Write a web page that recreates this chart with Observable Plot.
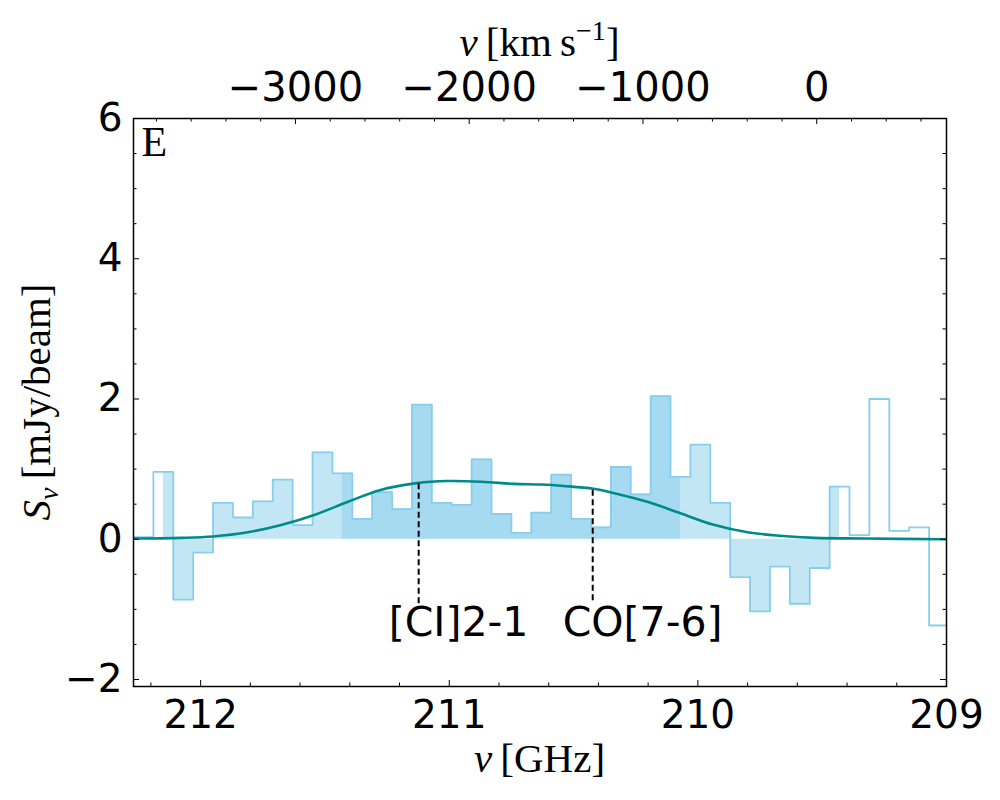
<!DOCTYPE html>
<html>
<head>
<meta charset="utf-8">
<script src="https://cdn.jsdelivr.net/npm/d3@7"></script>
<script src="https://cdn.jsdelivr.net/npm/@observablehq/plot@0.6"></script>
<style>
  body { margin: 0; background: #fff; }
  #chart { width: 1000px; height: 800px; }
</style>
</head>
<body>
<div id="chart"></div>
<script>
// ---- data ----
const channelFreq = [212.23, 212.15, 212.07, 211.99, 211.91, 211.83, 211.75, 211.67, 211.59, 211.51,
  211.43, 211.35, 211.27, 211.19, 211.11, 211.03, 210.95, 210.87, 210.79, 210.71,
  210.63, 210.55, 210.47, 210.39, 210.31, 210.23, 210.15, 210.07, 209.99, 209.91,
  209.83, 209.75, 209.67, 209.59, 209.51, 209.43, 209.35, 209.27, 209.19, 209.11, 209.03];
const channelFlux = [0.03, 0.96, -0.86, -0.19, 0.52, 0.31, 0.54, 0.85, 0.20, 1.24,
  0.94, 0.29, 0.67, 0.43, 1.92, 0.52, 0.49, 1.14, 0.36, 0.09,
  0.38, 0.92, 0.29, 0.17, 1.03, 0.64, 2.04, 0.89, 1.35, 0.52,
  -0.54, -1.03, -0.39, -0.92, -0.41, 0.75, 0.06, 2.00, 0.12, 0.17, -1.23];
const wideRange = [1, 35];   // channels in the light shaded band
const coreRange = [10, 27];  // channels in the darker shaded band

const fitFreq = [212.27, 212.08, 211.95, 211.81, 211.68, 211.54, 211.41, 211.28, 211.13, 211.01,
  210.87, 210.74, 210.63, 210.54, 210.42, 210.34, 210.20, 210.07, 209.94, 209.80,
  209.67, 209.53, 209.33, 209.00];
const fitFlux = [0.01, 0.02, 0.04, 0.10, 0.20, 0.35, 0.53, 0.70, 0.80, 0.83,
  0.82, 0.79, 0.78, 0.76, 0.72, 0.66, 0.53, 0.37, 0.21, 0.10,
  0.05, 0.02, 0.01, 0.00];

const lineNames = ["[CI]2-1", "CO[7-6]"];
const lineFreq = [211.123, 210.423];
const lineTop = [0.79, 0.70];
const lineBottom = -0.92;
const labelY = -1.19;

const xMajor = [212, 211, 210, 209];
const yMajor = [-2, 0, 2, 4, 6];
const vMajor = [-3000, -2000, -1000, 0];
const nu0 = 209.522;       // GHz, velocity zero
const cKms = 299792.458;
const panelLabel = "E";

// ---- tables ----
const channels = channelFreq.map((f, i) => ({freq: f, flux: channelFlux[i]}));
const chanW = Math.abs(channelFreq[0] - channelFreq[1]);
const stepPts = channels.flatMap(d => [
  {freq: d.freq + chanW / 2, flux: d.flux},
  {freq: d.freq - chanW / 2, flux: d.flux}
]);
const fit = fitFreq.map((f, i) => ({freq: f, flux: fitFlux[i]}));
const lines = lineNames.map((n, i) => ({name: n, freq: lineFreq[i], top: lineTop[i]}));

const xDomain = [212.27, 209];
const vToNu = v => nu0 * (1 - v / cKms);
const inX = f => f <= xDomain[0] && f >= xDomain[1];
const xMinor = d3.range(2090, 2124, 2).map(v => v / 10).filter(v => !xMajor.includes(v) && inX(v));
const yMinor = d3.range(-1.5, 6, 0.5).filter(v => !yMajor.includes(v));
const vMajorNu = vMajor.map(vToNu);
const vMinorNu = d3.range(-4000, 1000, 200).filter(v => !vMajor.includes(v)).map(vToNu).filter(inX);

// ---- layout ----
const W = 1000, H = 800, mL = 133, mR = 54, mT = 118, mB = 114;
const pw = W - mL - mR, ph = H - mT - mB;
const majorLen = 6, minorLen = 3.5;
const sky = "#87ceeb";
const fmtInt = d3.format("d");

const plot = Plot.plot({
  width: W, height: H,
  marginLeft: mL, marginRight: mR, marginTop: mT, marginBottom: mB,
  style: {fontFamily: "DejaVu Sans", fontSize: "39px", background: "white", color: "black"},
  x: {domain: xDomain},
  y: {domain: [-2.1, 6]},
  marks: [
    Plot.areaY(channels.slice(wideRange[0], wideRange[1] + 1),
      {x: "freq", y: "flux", curve: "step", fill: sky, fillOpacity: 0.5}),
    Plot.areaY(channels.slice(coreRange[0], coreRange[1] + 1),
      {x: "freq", y: "flux", curve: "step", fill: sky, fillOpacity: 0.5}),
    Plot.line(stepPts, {x: "freq", y: "flux", stroke: sky, strokeWidth: 1.8, clip: true}),
    Plot.line(fit, {x: "freq", y: "flux", stroke: "#008b8b", strokeWidth: 2.6, curve: "catmull-rom", clip: true}),
    Plot.ruleX(lines, {x: "freq", y1: "top", y2: lineBottom, stroke: "black", strokeWidth: 2, strokeDasharray: "6,3.5"}),
    Plot.text(lines, {x: "freq", y: labelY, text: "name", textAnchor: "start", dx: -30, fontSize: 41, fill: "black"}),
    Plot.text([panelLabel], {frameAnchor: "top-left", dx: 8, dy: 8, lineAnchor: "top", textAnchor: "start",
      fontFamily: "Liberation Serif", fontSize: 42, fill: "black"}),
    // inward ticks
    Plot.tickY(yMajor, {y: d => d, insetRight: pw - majorLen, stroke: "black"}),
    Plot.tickY(yMajor, {y: d => d, insetLeft: pw - majorLen, stroke: "black"}),
    Plot.tickY(yMinor, {y: d => d, insetRight: pw - minorLen, stroke: "black"}),
    Plot.tickY(yMinor, {y: d => d, insetLeft: pw - minorLen, stroke: "black"}),
    Plot.tickX(xMajor, {x: d => d, insetTop: ph - majorLen, stroke: "black"}),
    Plot.tickX(xMinor, {x: d => d, insetTop: ph - minorLen, stroke: "black"}),
    Plot.tickX(vMajorNu, {x: d => d, insetBottom: ph - majorLen, stroke: "black"}),
    Plot.tickX(vMinorNu, {x: d => d, insetBottom: ph - minorLen, stroke: "black"}),
    Plot.frame({stroke: "black", strokeWidth: 1.5}),
    // tick labels
    Plot.axisX({anchor: "bottom", ticks: xMajor, tickSize: 0, tickPadding: 14, label: null, tickFormat: fmtInt}),
    Plot.axisX({anchor: "top", ticks: vMajorNu, tickSize: 0, tickPadding: 18, label: null, fontSize: 40,
      tickFormat: d => fmtInt(Math.round(cKms * (1 - d / nu0)))}),
    Plot.axisY({anchor: "left", ticks: yMajor, tickSize: 0, tickPadding: 11, label: null, tickFormat: fmtInt})
  ]
});

// axis titles (math-style labels)
const svg = d3.select(plot);
const serif = "Liberation Serif";
const xl = svg.append("text").attr("x", mL + pw / 2).attr("y", 772)
  .attr("text-anchor", "middle").attr("font-family", serif).attr("font-size", 41).attr("fill", "black");
xl.append("tspan").attr("font-style", "italic").text("ν");
xl.append("tspan").text("\u2009[GHz]");

const tl = svg.append("text").attr("x", mL + pw / 2).attr("y", 56)
  .attr("text-anchor", "middle").attr("font-family", serif).attr("font-size", 41).attr("fill", "black");
tl.append("tspan").attr("font-style", "italic").text("v");
tl.append("tspan").text("\u2009[km\u2009s");
tl.append("tspan").attr("font-size", 28).attr("dy", -16).text("−1");
tl.append("tspan").attr("dy", 16).text("]");

const yl = svg.append("text").attr("transform", `translate(50,${mT + ph / 2}) rotate(-90)`)
  .attr("text-anchor", "middle").attr("font-family", serif).attr("font-size", 41).attr("fill", "black");
yl.append("tspan").attr("font-style", "italic").text("S");
yl.append("tspan").attr("font-style", "italic").attr("font-size", 28).attr("dy", 8).text("ν");
yl.append("tspan").attr("dy", -8).text("\u2009[mJy/beam]");

document.getElementById("chart").appendChild(plot);
</script>
</body>
</html>
